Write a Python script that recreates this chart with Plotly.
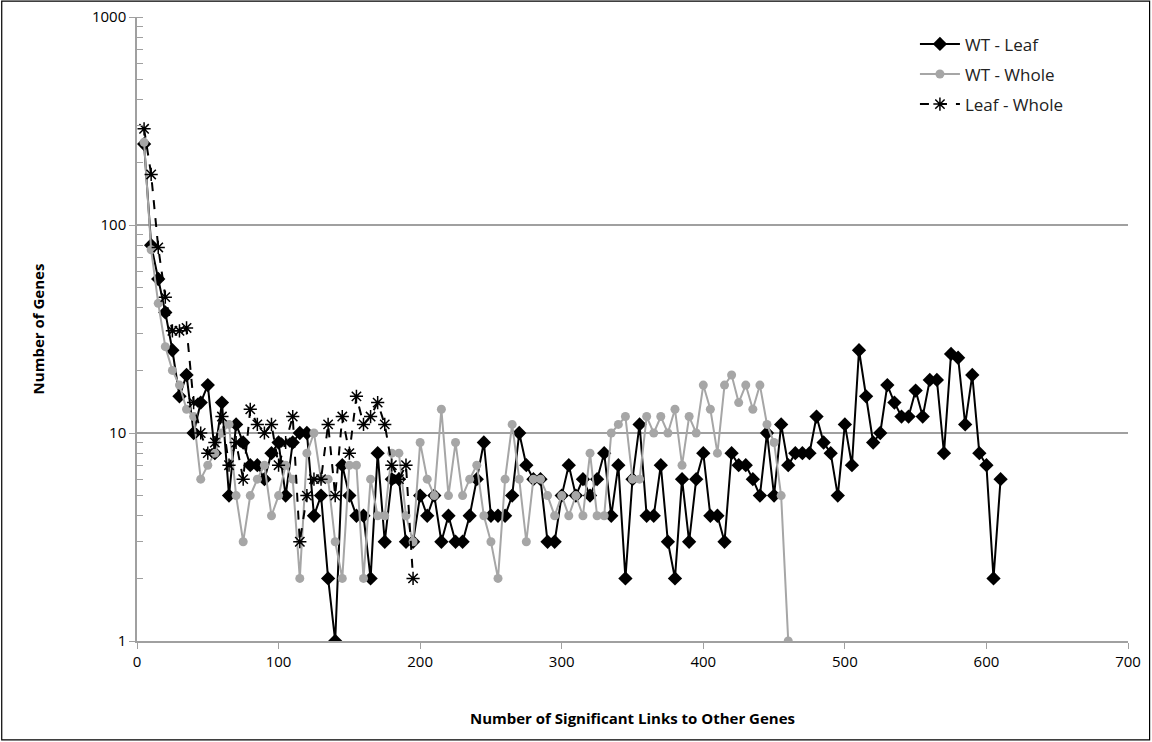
import plotly.graph_objects as go

# Number of significant links (bin starts every 5 links)
leaf_x = list(range(5, 615, 5))
whole_x = list(range(5, 465, 5))
lw_x = list(range(5, 200, 5))

# Number of genes per bin
wt_leaf = [245, 80, 55, 38, 25, 15, 19, 10, 14, 17,
           8, 14, 5, 11, 9, 7, 7, 6, 8, 9,
           5, 9, 10, 10, 4, 5, 2, 1, 7, 5,
           4, 4, 2, 8, 3, 6, 6, 3, 3, 5,
           4, 5, 3, 4, 3, 3, 4, 6, 9, 4,
           4, 4, 5, 10, 7, 6, 6, 3, 3, 5,
           7, 5, 6, 5, 6, 8, 4, 7, 2, 6,
           11, 4, 4, 7, 3, 2, 6, 3, 6, 8,
           4, 4, 3, 8, 7, 7, 6, 5, 10, 5,
           11, 7, 8, 8, 8, 12, 9, 8, 5, 11,
           7, 25, 15, 9, 10, 17, 14, 12, 12, 16,
           12, 18, 18, 8, 24, 23, 11, 19, 8, 7,
           2, 6]

wt_whole = [250, 76, 42, 26, 20, 17, 13, 12, 6, 7,
            8, 10, 11, 5, 3, 5, 6, 7, 4, 5,
            7, 6, 2, 8, 10, 6, 6, 3, 2, 7,
            7, 2, 6, 4, 4, 8, 8, 4, 3, 9,
            6, 5, 13, 5, 9, 5, 6, 7, 4, 3,
            2, 6, 11, 6, 3, 6, 6, 5, 4, 5,
            4, 5, 4, 8, 4, 4, 10, 11, 12, 6,
            6, 12, 10, 12, 10, 13, 7, 12, 10, 17,
            13, 8, 17, 19, 14, 17, 13, 17, 11, 9,
            5, 1]

leaf_whole = [290, 175, 78, 45, 31, 31, 32, 14, 10, 8,
              9, 12, 7, 9, 6, 13, 11, 10, 11, 7,
              9, 12, 3, 5, 6, 6, 11, 5, 12, 8,
              15, 11, 12, 14, 11, 7, 6, 7, 2]

y_ticks = [1, 10, 100, 1000]
x_ticks = [0, 100, 200, 300, 400, 500, 600, 700]

GRAY = "#a6a6a6"
AXIS = "#a0a0a0"
FONT = "Open Sans, Lato, sans-serif"

fig = go.Figure()

fig.add_trace(go.Scatter(
    x=leaf_x, y=wt_leaf, name="WT - Leaf", mode="lines+markers",
    legendgroup="a",
    line=dict(color="black", width=2),
    marker=dict(symbol="diamond", size=11, color="black"),
))
fig.add_trace(go.Scatter(
    x=whole_x, y=wt_whole, name="WT - Whole", mode="lines+markers",
    legendgroup="b",
    line=dict(color=GRAY, width=2),
    marker=dict(symbol="circle", size=9, color=GRAY),
))
fig.add_trace(go.Scatter(
    x=lw_x, y=leaf_whole, name="Leaf - Whole", mode="lines+markers",
    legendgroup="c",
    line=dict(color="black", width=2, dash="dash"),
    marker=dict(symbol="asterisk-open", size=11, color="black",
                line=dict(color="black", width=1.5)),
))

fig.update_layout(
    width=1152, height=742,
    margin=dict(l=137, r=24, t=17, b=101),
    paper_bgcolor="white", plot_bgcolor="white",
    font=dict(family=FONT, color="black", size=14),
    showlegend=True,
    legend=dict(x=0.785, y=0.985, xanchor="left", yanchor="top",
                font=dict(size=17, color="#222"), bgcolor="rgba(0,0,0,0)",
                itemwidth=40, tracegroupgap=5),
    shapes=[dict(type="rect", xref="paper", yref="paper",
                 x0=-0.1365, x1=1.0218, y0=-0.1585, y1=1.0256,
                 line=dict(color="black", width=1.2), fillcolor="rgba(0,0,0,0)")],
)

fig.update_xaxes(
    range=[0, 700], tickvals=x_ticks, ticks="outside", ticklen=6,
    tickcolor=AXIS, showline=True, linecolor=AXIS, linewidth=1.5,
    showgrid=False, zeroline=False, tickfont=dict(size=15), automargin=False,
    title=dict(text="<b>Number of Significant Links to Other Genes</b>",
               font=dict(size=15), standoff=44),
)
fig.update_yaxes(
    type="log", range=[0, 3], tickvals=y_ticks,
    ticktext=[str(v) for v in y_ticks],
    ticks="outside", ticklen=6, tickcolor=AXIS,
    showline=True, linecolor=AXIS, linewidth=1.5,
    showgrid=True, gridcolor=AXIS, gridwidth=1.5, zeroline=False,
    tickfont=dict(size=15), automargin=False,
    minor=dict(ticks="inside", ticklen=6, tickcolor=AXIS, dtick="D1", showgrid=False),
    title=dict(text="<b>Number of Genes</b>", font=dict(size=15), standoff=44),
)

fig.write_html("out.html")
